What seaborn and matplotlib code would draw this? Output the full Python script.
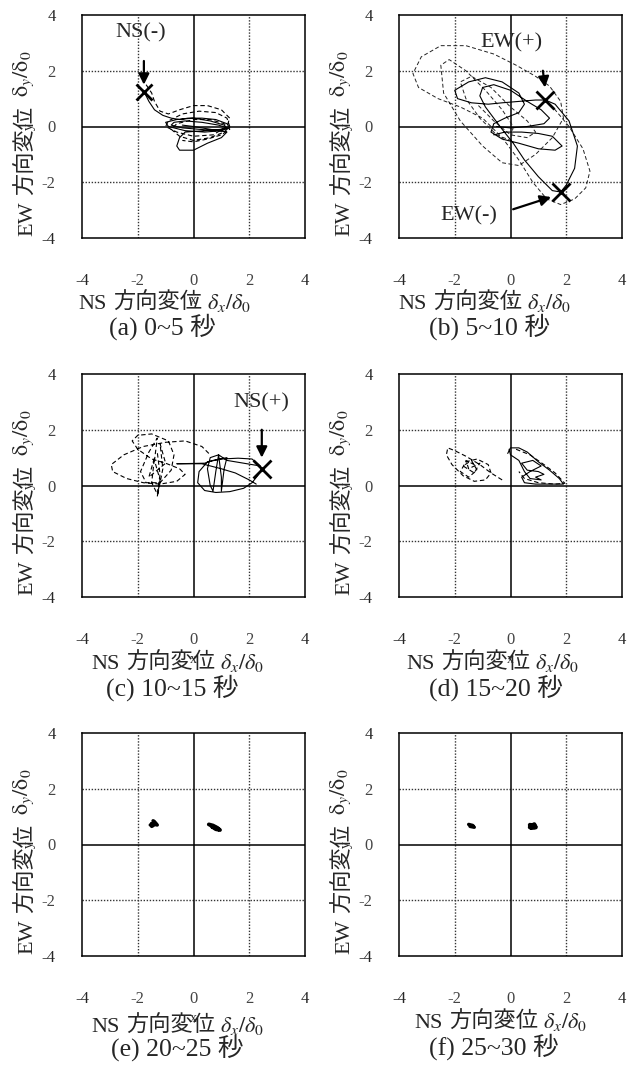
import matplotlib
matplotlib.use("Agg")
import matplotlib.pyplot as plt
import seaborn as sns
import pandas as pd

# ---------------- data ----------------
ticks = [-4, -2, 0, 2, 4]
tick_labels = ["-4", "-2", "0", "2", "4"]
titles = ["(a) 0~5 秒", "(b) 5~10 秒", "(c) 10~15 秒", "(d) 15~20 秒", "(e) 20~25 秒", "(f) 25~30 秒"]
xlabel_parts = ["NS", "方向変位", r"$\delta_x/\delta_0$"]
ylabel_parts = ["EW", "方向変位", r"$\mathrm{\delta}_y/\mathrm{\delta}_0$"]

# (a) 0-5 s
a_solid_x = [-1.8, -1.6, -1.4, -1.1, -0.8, -0.5, -0.2, 0.3, 0.8, 1.2, 1.3, 1.0, 0.4, -0.3, -0.9, -1.0, -0.6, 0.0, 0.6, 1.1, 1.2, 0.8, 0.2, -0.4, -0.8, -0.7, -0.3, 0.3, 0.9, 1.2, 1.0, 0.4, -0.3, -0.5, -0.6, -0.5, 0.0, 0.5, 1.0, 1.2, 0.6, 0.0, -0.4]
a_solid_y = [1.3, 0.9, 0.6, 0.4, 0.3, 0.25, 0.3, 0.3, 0.25, 0.1, -0.05, -0.15, -0.2, -0.15, 0.0, 0.15, 0.25, 0.3, 0.2, 0.05, -0.05, -0.15, -0.1, -0.05, 0.05, 0.15, 0.2, 0.15, 0.05, -0.05, -0.1, -0.15, -0.2, -0.4, -0.7, -0.85, -0.85, -0.6, -0.4, -0.2, -0.1, 0.0, 0.05]
a_dash_x = [-1.7, -1.5, -1.4, -1.2, -0.9, -0.5, 0.0, 0.5, 1.0, 1.3, 1.2, 0.7, 0.0, -0.6, -1.0, -0.9, -0.4, 0.2, 0.8, 1.2, 1.3, 1.1, 0.6, 0.0, -0.5, -0.8, -0.6, 0.0, 0.6, 1.1, 1.3, 1.0, 0.5, 0.0, -0.4]
a_dash_y = [1.5, 1.2, 0.9, 0.55, 0.45, 0.6, 0.75, 0.75, 0.6, 0.3, 0.0, -0.3, -0.35, -0.2, 0.0, 0.2, 0.45, 0.55, 0.5, 0.3, 0.0, -0.2, -0.4, -0.5, -0.35, -0.1, 0.1, 0.25, 0.25, 0.1, -0.1, -0.3, -0.45, -0.55, -0.5]

# (b) 5-10 s
b_solid_x = [-0.6, -0.2, 0.4, 1.0, 1.5, 1.85, 1.6, 1.0, 0.3, -0.3, -0.7, -0.6, -0.2, 0.3, 0.5, 0.3, -0.3, -0.9, -1.5, -2.0, -1.9, -1.4, -0.8, -0.3, 0.3, 0.9, 1.25, 1.6, 2.1, 2.4, 2.3, 2.0, 1.8, 1.5, 1.0, 0.5, 0.1, -0.3, -0.6, -0.9, -1.1, -1.0, -0.6, 0.0, 0.6, 1.1, 1.4, 1.2, 0.6, 0.0, -0.5]
b_solid_y = [-0.3, -0.2, -0.2, -0.25, -0.35, -0.7, -0.85, -0.8, -0.6, -0.45, -0.2, 0.1, 0.3, 0.5, 0.8, 1.2, 1.6, 1.75, 1.6, 1.3, 1.0, 0.85, 0.8, 0.85, 0.9, 0.95, 0.95, 0.8, 0.2, -0.7, -1.5, -2.1, -2.35, -2.3, -1.8, -1.2, -0.6, -0.1, 0.3, 0.7, 1.1, 1.4, 1.5, 1.3, 0.9, 0.6, 0.3, 0.1, 0.0, -0.05, 0.0]
b_dash_x = [1.25, 1.6, 2.1, 2.6, 2.85, 2.7, 2.3, 1.8, 1.3, 0.8, 0.3, -0.3, -1.0, -1.8, -2.6, -3.3, -3.5, -3.2, -2.5, -1.6, -0.6, 0.2, 0.9, 1.4, 1.8, 1.9, 1.5, 0.9, 0.3, -0.3, -1.0, -1.8, -2.4, -2.5, -2.2, -1.6, -0.9, -0.3, 0.1, 0.0, -0.5, -1.1, -1.6, -1.8, -1.4, -0.7, 0.0, 0.6, 0.9, 0.6, 0.0, -0.6, -1.2]
b_dash_y = [0.95, 0.6, 0.0, -0.8, -1.6, -2.2, -2.6, -2.8, -2.6, -2.0, -1.2, -0.4, 0.3, 0.7, 1.0, 1.4, 1.9, 2.5, 2.9, 2.9, 2.6, 2.2, 1.8, 1.45, 0.9, 0.3, -0.4, -1.0, -1.4, -1.3, -0.7, 0.2, 1.2, 2.2, 2.4, 2.0, 1.3, 0.6, 0.0, -0.5, -0.3, 0.3, 1.0, 1.6, 1.8, 1.4, 0.7, 0.2, -0.2, -0.4, -0.3, 0.2, 0.8]

# (c) 10-15 s
c_solid_x = [2.45, 2.3, 2.1, 1.8, 1.3, 0.8, 0.4, 0.15, 0.2, 0.5, 1.0, 1.6, 2.1, 2.4, 1.2, 0.9, 0.6, 0.5, 0.6, 0.7, 0.8, 0.9, 1.0, 1.0, 1.1, 1.2, 0.7, 0.4, -0.6, 0.3, 1.0, 1.5, 2.0, 2.25]
c_solid_y = [0.6, 0.35, 0.1, -0.1, -0.22, -0.25, -0.18, 0.1, 0.5, 0.85, 0.95, 0.98, 0.95, 0.7, 0.9, 1.1, 1.0, 0.6, 0.0, -0.2, 0.5, 1.1, 0.3, -0.2, 0.6, 1.0, 0.9, 0.8, 0.78, 0.78, 0.6, 0.45, 0.2, 0.05]
c_dash_x = [0.55, 0.3, -0.3, -1.0, -1.8, -2.5, -2.95, -2.9, -2.4, -1.8, -1.2, -0.6, -0.3, -0.5, -1.0, -1.5, -2.0, -2.2, -2.0, -1.5, -0.9, -0.7, -0.8, -1.2, -1.7, -1.9, -1.6, -1.3, -1.4, -1.2, -1.3, -1.1, -1.2, -1.0, -1.6, -1.4, -1.5, -1.3, -1.2, -1.3]
c_dash_y = [1.15, 1.4, 1.6, 1.55, 1.4, 1.1, 0.75, 0.5, 0.25, 0.1, 0.05, 0.15, 0.4, 0.6, 0.8, 0.95, 1.3, 1.6, 1.8, 1.85, 1.6, 1.1, 0.55, 0.1, 0.1, 0.5, 1.2, 1.7, 0.9, 0.2, -0.4, 0.6, 1.5, 0.8, 0.3, 1.0, 0.1, -0.3, 0.4, 1.2]

# (d) 15-20 s
d_solid_x = [-0.1, 0.0, 0.3, 0.6, 1.0, 1.4, 1.75, 1.9, 1.5, 0.9, 0.5, 0.4, 0.7, 1.1, 0.8, 0.4, 0.6, 1.0, 1.2, 0.9, 1.1, 0.7, 0.5, 0.3, 0.0, -0.05]
d_solid_y = [1.15, 1.35, 1.35, 1.2, 0.85, 0.55, 0.25, 0.05, 0.05, 0.05, 0.1, 0.3, 0.5, 0.7, 0.9, 0.8, 0.55, 0.5, 0.4, 0.3, 0.2, 0.25, 0.5, 0.9, 1.1, 1.3]
d_dash_x = [-0.3, -0.7, -1.1, -1.6, -2.0, -2.25, -2.3, -2.1, -1.7, -1.3, -0.9, -0.7, -0.8, -1.2, -1.6, -1.8, -1.5, -1.2, -1.4, -1.7, -1.3, -1.1, -1.5, -1.6, -1.2]
d_dash_y = [0.2, 0.45, 0.75, 1.05, 1.25, 1.35, 1.1, 0.75, 0.35, 0.15, 0.2, 0.45, 0.75, 0.95, 0.85, 0.5, 0.3, 0.55, 0.9, 0.7, 0.45, 0.8, 0.6, 0.9, 0.7]
d_dash2_x = [0.2, 0.7, 1.2, 1.6, 1.95, 1.6, 1.0, 0.5, 0.3]
d_dash2_y = [1.3, 1.1, 0.75, 0.45, 0.08, 0.05, 0.1, 0.25, 0.5]

# (e) 20-25 s
e_left_x = [-1.55, -1.4, -1.5, -1.35, -1.45, -1.3, -1.5]
e_left_y = [0.7, 0.8, 0.65, 0.75, 0.85, 0.7, 0.75]
e_right_x = [0.55, 0.7, 0.85, 0.95, 0.8, 0.65, 0.75, 0.9]
e_right_y = [0.72, 0.68, 0.6, 0.52, 0.55, 0.65, 0.62, 0.55]

# (f) 25-30 s
f_left_x = [-1.5, -1.35, -1.45, -1.3]
f_left_y = [0.72, 0.68, 0.65, 0.62]
f_right_x = [0.7, 0.9, 0.75, 0.85, 0.7, 0.88]
f_right_y = [0.7, 0.62, 0.6, 0.72, 0.62, 0.66]

# peak markers
a_peak = (-1.78, 1.25)
b_peak_pos = (1.25, 0.95)
b_peak_neg = (1.8, -2.35)
c_peak = (2.45, 0.6)

# ---------------- style ----------------
sns.set_style("white")
plt.rcParams['font.family'] = ['Liberation Serif', 'Noto Sans CJK JP']
plt.rcParams['mathtext.fontset'] = 'stix'

fig = plt.figure(figsize=(6.27, 10.70), dpi=100)
renderer = fig.canvas.get_renderer()

W, H = 627, 1070
lefts = [82, 399]
tops = [15, 374, 733]
size = 223

def px_axes(col, row):
    l = lefts[col] / W
    b = (H - tops[row] - size) / H
    return fig.add_axes([l, b, size / W, size / H])

DASH = (0, (4, 2.5))

def trace(ax, xs, ys, dashed=False, lw=0.8, color="black"):
    df = pd.DataFrame({"x": xs, "y": ys})
    sns.lineplot(data=df, x="x", y="y", sort=False, estimator=None, ax=ax,
                 color=color, lw=lw, linestyle=DASH if dashed else "-", zorder=3)

LAB_FS = 16
TITLE_FS = 18.5
H_GAPS = [6, 5]
V_GAPS = [6, 9]
V_XSHIFT = [0, 0, -4]
FAMS = ["Liberation Serif", "Noto Sans CJK JP", "Liberation Serif"]

def seg_widths(parts):
    ws = []
    for p, fam in zip(parts, FAMS):
        t = fig.text(0, 0, p, fontsize=LAB_FS, family=fam)
        ws.append(t.get_window_extent(renderer).width)
        t.remove()
    return ws

def hlabel(xc, yc, parts):
    ws = seg_widths(parts)
    total = sum(ws) + sum(H_GAPS)
    x = xc - total / 2
    yb = yc + 0.33 * LAB_FS * 100 / 72
    for k, (p, fam) in enumerate(zip(parts, FAMS)):
        fig.text(x / W, 1 - yb / H, p, fontsize=LAB_FS, family=fam, ha="left", va="baseline")
        x += ws[k] + (H_GAPS[k] if k < len(H_GAPS) else 0)

def vlabel(xc, yc, parts):
    ws = seg_widths(parts)
    total = sum(ws) + sum(V_GAPS)
    y = (H - yc) - total / 2          # display coords (from bottom)
    xb = xc + 0.33 * LAB_FS * 100 / 72
    for k, (p, fam) in enumerate(zip(parts, FAMS)):
        fig.text((xb + V_XSHIFT[k]) / W, y / H, p, fontsize=LAB_FS, family=fam, rotation=90,
                 rotation_mode="anchor", ha="left", va="baseline")
        y += ws[k] + (V_GAPS[k] if k < len(V_GAPS) else 0)

# label centres (pixels) per panel: xlabel (x,y), title (x,y)
lab_pos = [(165, 302, 162, 327), (485, 302, 490, 327),
           (178, 662, 172, 688), (493, 662, 496, 688),
           (178, 1025, 177, 1048), (501, 1021, 494, 1047)]

axes = []
for i in range(6):
    col, row = i % 2, i // 2
    ax = px_axes(col, row)
    axes.append(ax)
    ax.set_xlim(-4, 4)
    ax.set_ylim(-4, 4)
    for v in (-2, 2):
        ax.axvline(v, color="#333333", lw=1.0, ls=(0, (1, 1.2)), zorder=1)
        ax.axhline(v, color="#333333", lw=1.0, ls=(0, (1, 1.2)), zorder=1)
    ax.axvline(0, color="black", lw=1.1, zorder=1)
    ax.axhline(0, color="black", lw=1.1, zorder=1)
    ax.set_xticks(ticks)
    ax.set_xticklabels(tick_labels)
    ax.set_yticks(ticks)
    ax.set_yticklabels(tick_labels)
    ax.tick_params(axis="x", length=0, pad=25, labelsize=12)
    ax.tick_params(axis="y", length=0, pad=19, labelsize=12)
    for lab in ax.get_xticklabels() + ax.get_yticklabels():
        if lab.get_text() not in ("-4", "4"):
            lab.set_color("#444444")
    for s in ax.spines.values():
        s.set_color("black")
        s.set_linewidth(1.1)
    ax.set_xlabel("")
    ax.set_ylabel("")
    xl, yl, xt, yt = lab_pos[i]
    hlabel(xl, yl, xlabel_parts)
    fig.text(xt / W, 1 - yt / H, titles[i], ha="center", va="center", fontsize=TITLE_FS)
    vlabel(lefts[col] - 57, tops[row] + 128, ylabel_parts)

ANN_FS = 16
# (a)
ax = axes[0]
trace(ax, a_dash_x, a_dash_y, dashed=True)
trace(ax, a_solid_x, a_solid_y)
ax.plot(*a_peak, marker="x", ms=12, mew=2, color="black", zorder=5)
ax.annotate("", xy=(a_peak[0], a_peak[1] + 0.15), xytext=(a_peak[0], 2.45),
            arrowprops=dict(arrowstyle="-|>", lw=1.6, mutation_scale=16, color="black"))
ax.text(-1.9, 3.35, "NS(-)", ha="center", va="center", fontsize=ANN_FS)

# (b)
ax = axes[1]
trace(ax, b_dash_x, b_dash_y, dashed=True, lw=0.7, color="#222222")
trace(ax, b_solid_x, b_solid_y)
ax.plot(*b_peak_pos, marker="x", ms=13, mew=2, color="black", zorder=5)
ax.plot(*b_peak_neg, marker="x", ms=13, mew=2, color="black", zorder=5)
ax.annotate("", xy=(1.25, 1.3), xytext=(1.15, 2.1),
            arrowprops=dict(arrowstyle="-|>", lw=1.6, mutation_scale=16, color="black"))
ax.annotate("", xy=(1.55, -2.5), xytext=(0.0, -3.0),
            arrowprops=dict(arrowstyle="-|>", lw=1.6, mutation_scale=16, color="black"))
ax.text(0.05, 3.0, "EW(+)", ha="center", va="center", fontsize=ANN_FS)
ax.text(-1.5, -3.2, "EW(-)", ha="center", va="center", fontsize=ANN_FS)

# (c)
ax = axes[2]
trace(ax, c_dash_x, c_dash_y, dashed=True)
trace(ax, c_solid_x, c_solid_y)
ax.plot(*c_peak, marker="x", ms=13, mew=2, color="black", zorder=5)
ax.annotate("", xy=(2.45, 0.9), xytext=(2.45, 2.1),
            arrowprops=dict(arrowstyle="-|>", lw=1.6, mutation_scale=16, color="black"))
ax.text(2.45, 2.95, "NS(+)", ha="center", va="center", fontsize=ANN_FS)

# (d)
ax = axes[3]
trace(ax, d_dash_x, d_dash_y, dashed=True)
trace(ax, d_dash2_x, d_dash2_y, dashed=True)
trace(ax, d_solid_x, d_solid_y)

# (e)
ax = axes[4]
trace(ax, e_left_x, e_left_y, lw=2.5)
trace(ax, e_right_x, e_right_y, lw=2.8)

# (f)
ax = axes[5]
trace(ax, f_left_x, f_left_y, lw=2.5)
trace(ax, f_right_x, f_right_y, lw=3.2)

fig.savefig("out.png", dpi=100)
